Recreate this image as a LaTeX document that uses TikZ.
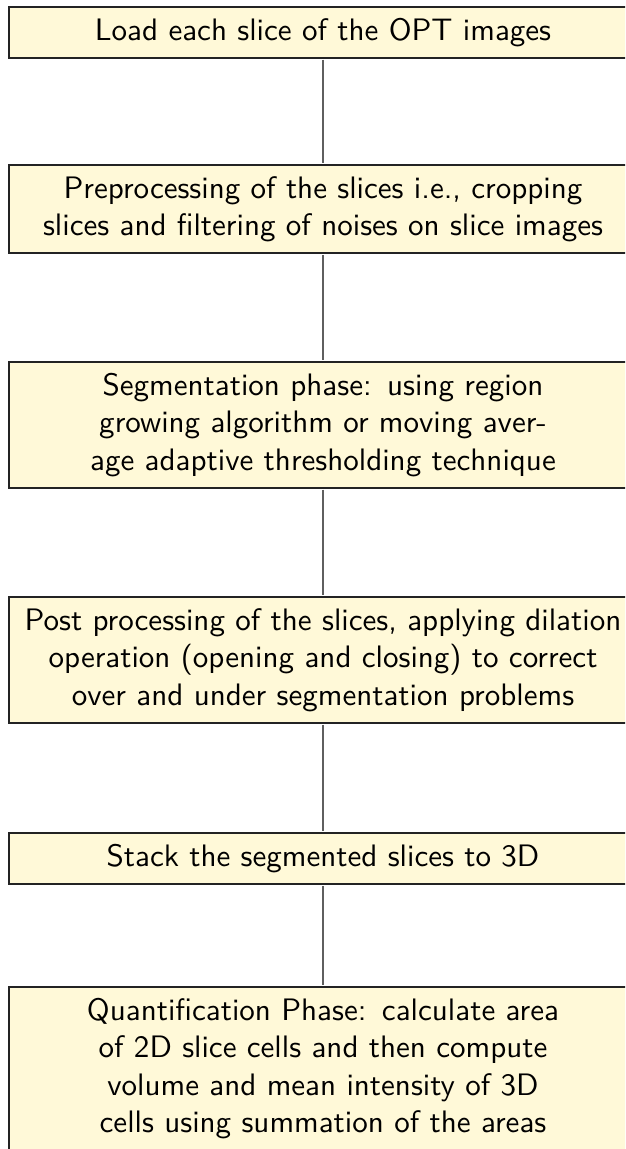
\documentclass[tikz,border=0pt]{standalone}
\definecolor{boxfill}{RGB}{255,249,216}
\definecolor{boxline}{RGB}{35,35,35}
\definecolor{linkline}{RGB}{95,95,95}
% one unit of the picture grid is 0.327pt
\tikzset{
  stage/.style={draw=boxline, line width=0.6pt, fill=boxfill,
    minimum width=205.4pt, text width=205.4pt, align=center,
    inner xsep=0pt, inner ysep=0pt, anchor=north,
    font=\sffamily\fontsize{10.15}{12.26}\selectfont},
  link/.style={draw=linkline, line width=0.95pt,
    shorten <=0.3pt, shorten >=0.3pt}
}
\begin{document}
\begin{tikzpicture}[x=0.327pt,y=-0.327pt]
  \useasboundingbox (0,0) rectangle (625,1149);
  \clip (0,0) rectangle (625,1149);

  \node[stage, minimum height=16.68pt] (load) at (323,6)
    {Load each slice of the OPT images};
  \node[stage, minimum height=28.94pt] (prep) at (323,164)
    {Preprocessing of the slices i.e., cropping\\slices and filtering of noises on slice images};
  \node[stage, minimum height=41.2pt] (seg) at (323,361)
    {Segmentation phase: using region\\growing algorithm or moving aver-\\age adaptive thresholding technique};
  \node[stage, minimum height=41.2pt] (post) at (323,596)
    {Post processing of the slices, applying dilation\\operation (opening and closing) to correct\\over and under segmentation problems};
  \node[stage, minimum height=16.68pt] (stack) at (323,832)
    {Stack the segmented slices to 3D};
  \node[stage, minimum height=53.46pt] (quant) at (323,986)
    {Quantification Phase: calculate area\\of 2D slice cells and then compute\\volume and mean intensity of 3D\\cells using summation of the areas};

  \draw[link] (load.south) -- (prep.north);
  \draw[link] (prep.south) -- (seg.north);
  \draw[link] (seg.south) -- (post.north);
  \draw[link] (post.south) -- (stack.north);
  \draw[link] (stack.south) -- (quant.north);
\end{tikzpicture}
\end{document}
